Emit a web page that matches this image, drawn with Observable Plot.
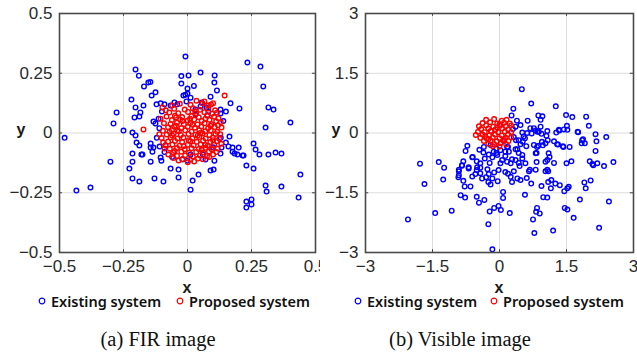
<!DOCTYPE html>
<html>
<head>
<meta charset="utf-8">
<script src="https://cdn.jsdelivr.net/npm/d3@7"></script>
<script src="https://cdn.jsdelivr.net/npm/@observablehq/plot@0.6"></script>
<style>
  html, body { margin: 0; padding: 0; background: #fff; }
  #wrap { position: relative; width: 637px; height: 354px; overflow: hidden; background: #fff; }
  .panel { position: absolute; top: 0; overflow: hidden; }
  .lbl { position: absolute; transform: translate(-50%, -50%); font-family: "Liberation Sans", Arial, sans-serif; font-weight: bold; font-size: 16px; color: #1a1a1a; white-space: nowrap; }
  .leg { position: absolute; transform: translateY(-50%); font-family: "Noto Sans", sans-serif; font-weight: 600; font-size: 14.5px; color: #111; white-space: nowrap; display: flex; align-items: center; }
  .leg svg { margin-right: 5px; }
  .cap { position: absolute; transform: translate(-50%, -50%); font-family: "Liberation Serif", "Times New Roman", serif; font-size: 20.5px; color: #111; white-space: nowrap; }
</style>
</head>
<body>
<div id="wrap"></div>
<script>
// ---- data ----
const firTicks = [-0.5, -0.25, 0, 0.25, 0.5];
const visTicks = [-3, -1.5, 0, 1.5, 3];
const seriesNames = ["Existing system", "Proposed system"];
const captions = ["(a) FIR image", "(b) Visible image"];

const firExisting = [
[-0.48,-0.02],[-0.008,0.32],[0.234,0.295],[0.285,0.278],[-0.203,0.266],[-0.19,0.24],
[0.051,0.253],[-0.024,0.238],[0.004,0.241],[0.106,0.241],[-0.024,0.207],[0.105,0.211],
[-0.153,0.211],[-0.145,0.213],[-0.17,0.195],[0.296,0.195],[0.0,0.186],[0.025,0.197],[0.115,0.178],
[-0.125,0.17],[-0.14,0.157],[-0.008,0.16],[0.012,0.148],[0.09,0.152],[-0.219,0.14],[0.203,0.103],
[0.168,0.124],[0.316,0.107],[0.336,0.098],[-0.203,0.107],[-0.172,0.115],[-0.277,0.086],
[0.129,0.098],[0.129,0.082],[-0.184,0.086],[-0.188,0.069],[-0.207,0.065],[-0.289,0.04],[-0.25,0.01],
[0.305,0.023],[0.402,0.044],[-0.215,0.002],[-0.203,-0.01],[-0.199,-0.04],[-0.188,-0.052],
[0.164,-0.015],[0.258,-0.044],[0.266,-0.069],[0.316,-0.09],[0.344,-0.082],[0.367,-0.086],[0.281,-0.09],
[0.16,-0.056],[0.176,-0.061],[0.2,-0.061],[0.176,-0.078],[0.195,-0.09],[0.215,-0.094],
[-0.215,-0.086],[-0.176,-0.09],[-0.301,-0.12],[-0.227,-0.149],[-0.215,-0.12],[-0.215,-0.19],
[-0.188,-0.203],[-0.129,-0.19],[-0.094,-0.203],[-0.144,-0.12],[-0.105,-0.103],[-0.102,-0.116],[-0.18,-0.09],
[-0.066,-0.149],[-0.035,-0.153],[-0.035,-0.186],[0.02,-0.199],[0.043,-0.174],[0.012,-0.237],
[0.07,-0.111],[0.105,-0.116],[0.09,-0.157],[0.102,-0.153],[0.23,-0.136],[0.258,-0.149],
[0.441,-0.174],[0.305,-0.22],[0.309,-0.245],[0.367,-0.224],[0.23,-0.287],[0.25,-0.278],
[0.25,-0.299],[0.23,-0.312],[0.434,-0.27],[-0.434,-0.241],[-0.379,-0.228],
[0.012,-0.09],[0.0,-0.116],[-0.02,-0.111],[0.133,-0.061],[0.129,-0.086],[0.184,-0.086],[0.219,-0.094],
[-0.144,-0.044],[-0.133,-0.061],[-0.137,-0.078],[-0.144,-0.061],[-0.109,-0.057],[-0.086,-0.052],
[-0.121,0.12],[-0.105,0.124],[-0.09,0.12],[-0.066,0.115],[-0.051,0.128],[-0.125,0.04],[-0.133,0.048],
[-0.113,0.06],[-0.016,0.157],[0.0,0.165],[-0.004,0.132],[0.055,0.128],[0.051,0.111],[0.074,0.107],
[0.082,0.09],[0.031,0.098],[0.031,0.078],[0.078,0.074],[-0.1,0.09],[-0.11,0.02],[-0.12,-0.02],
[0.14,0.05],[0.13,-0.02],[0.15,-0.04],[-0.06,-0.1],[0.06,-0.09],[-0.09,-0.08],[0.1,-0.06],
[-0.04,0.12],[0.15,0.09]
];

const firProposed = [
[-0.098,0.107],[-0.172,0.015],[0.145,0.157],[0.133,0.023],[0.066,0.132],[0.08,0.115],[0.113,-0.08],
[-0.03,0.122],[0.012,0.118],[0.058,0.124],[0.092,0.119],
[-0.052,0.101],[-0.011,0.098],[0.021,0.104],[0.049,0.097],[0.081,0.102],[0.108,0.095],
[-0.071,0.086],[-0.036,0.083],[0.002,0.088],[0.034,0.082],[0.066,0.087],[0.096,0.081],
[-0.082,0.069],[-0.049,0.072],[-0.021,0.067],[0.016,0.071],[0.044,0.066],[0.077,0.072],[0.104,0.068],[0.121,0.061],
[-0.061,0.054],[-0.029,0.057],[0.001,0.052],[0.026,0.056],[0.056,0.051],[0.086,0.055],[0.112,0.049],
[-0.092,0.041],[-0.066,0.038],[-0.041,0.043],[-0.014,0.037],[0.011,0.042],[0.039,0.036],[0.067,0.041],[0.094,0.037],[0.119,0.032],
[-0.076,0.024],[-0.052,0.027],[-0.024,0.021],[0.001,0.026],[0.029,0.022],[0.054,0.027],[0.081,0.021],[0.106,0.025],
[-0.096,0.009],[-0.061,0.012],[-0.034,0.007],[-0.009,0.011],[0.016,0.006],[0.046,0.012],[0.069,0.007],[0.091,0.011],[0.116,0.005],
[-0.081,-0.006],[-0.054,-0.003],[-0.026,-0.008],[0.004,-0.004],[0.031,-0.007],[0.059,-0.002],[0.086,-0.008],[0.109,-0.004],
[-0.101,-0.021],[-0.066,-0.018],[-0.039,-0.023],[-0.016,-0.019],[0.019,-0.022],[0.046,-0.017],[0.071,-0.023],[0.099,-0.019],[0.124,-0.024],
[-0.076,-0.036],[-0.049,-0.033],[-0.021,-0.038],[0.011,-0.034],[0.036,-0.037],[0.061,-0.032],[0.089,-0.038],[0.114,-0.034],
[-0.086,-0.051],[-0.059,-0.048],[-0.031,-0.053],[0.001,-0.049],[0.024,-0.052],[0.051,-0.047],[0.079,-0.053],[0.104,-0.049],
[-0.069,-0.066],[-0.041,-0.063],[-0.011,-0.068],[0.016,-0.064],[0.044,-0.067],[0.071,-0.062],[0.094,-0.068],
[-0.056,-0.081],[-0.024,-0.078],[0.006,-0.083],[0.034,-0.079],[0.061,-0.082],[0.084,-0.077],
[-0.041,-0.096],[-0.009,-0.093],[0.021,-0.098],[0.049,-0.094],[0.076,-0.097],
[-0.019,-0.109],[0.011,-0.112],[0.041,-0.107],[0.001,-0.122],[0.026,-0.119],
[-0.045,0.03],[0.005,-0.03],[0.05,0.0],[-0.02,0.05],[0.07,-0.05],[0.03,0.09],[-0.06,-0.01],[0.09,0.03],
[-0.085,0.095],[-0.06,0.115],[0.035,0.135],[0.1,0.125],[0.115,0.085],[0.13,0.045],[0.128,-0.005],
[0.132,-0.045],[0.118,-0.065],[0.1,-0.09],[-0.105,0.06],[-0.11,-0.005],[-0.095,-0.04],[-0.09,-0.065],
[-0.075,-0.09],[-0.055,-0.105],[-0.035,-0.115],[0.06,-0.11],[0.085,-0.1],[-0.045,0.065],[0.01,0.06],
[0.07,0.06],[-0.015,-0.055],[0.055,-0.07],[-0.05,-0.075],[0.02,0.035],[-0.07,0.005],[0.1,-0.03],
[-0.04,0.01],[0.04,-0.01]
];

const visExisting = [
[0.5,1.1],[0.71,0.74],[0.31,0.61],[1.26,0.67],[0.27,0.44],[0.87,0.44],[0.96,0.42],[0.92,0.33],
[1.49,0.45],[1.63,0.4],[1.94,0.41],[0.39,0.31],[0.47,0.2],[0.36,0.16],[0.63,0.31],[2.0,0.18],
[1.51,0.18],[1.44,0.09],[1.33,0.08],[1.52,0.08],[1.75,0.03],[2.15,-0.03],[2.39,-0.1],
[1.07,0.05],[1.05,-0.07],[0.69,0.12],[0.77,0.12],[0.92,0.16],[0.51,0.01],[0.62,0.0],[0.54,-0.09],
[0.32,-0.1],[0.37,-0.18],[0.85,0.03],[0.94,-0.02],[1.22,-0.21],[1.29,-0.28],[1.42,-0.33],[1.57,-0.35],
[2.17,-0.21],[1.85,-0.18],[1.91,-0.26],[0.87,-0.32],[0.97,-0.31],[0.95,-0.22],[0.6,-0.33],[0.47,-0.28],
[0.4,-0.41],[2.15,-0.45],[0.81,-0.51],[1.1,-0.51],[0.19,-0.35],[0.13,-0.47],
[-0.72,-0.32],[-0.76,-0.45],[-0.6,-0.6],[-0.36,-0.49],[-0.24,-0.54],[-0.07,-0.5],
[-0.33,-0.64],[-0.13,-0.47],[-0.07,-0.39],[-0.61,-0.61],[-0.51,-0.71],[-0.43,-0.76],
[-0.81,-0.71],[-0.84,-0.81],[-0.22,-0.75],[-0.16,-0.61],[-1.78,-0.77],[-1.36,-0.73],[-1.24,-0.87],
[-0.91,-0.92],[-0.69,-0.86],[-0.5,-0.86],[0.88,0.03],[0.81,0.06],[0.72,-0.01],[1.27,0.01],[1.34,0.06],
[1.76,0.02],[0.57,-0.13],[0.43,-0.18],[0.52,-0.22],[1.87,-0.16],[1.84,-0.26],[1.31,-0.29],[1.43,-0.35],
[1.03,-0.26],[1.08,-0.18],[0.84,-0.35],[0.77,-0.3],[0.36,-0.41],[0.43,-0.5],[0.21,-0.47],[0.17,-0.35],
[0.02,-0.43],[-0.05,-0.55],[0.13,-0.58],[0.83,-0.5],[1.12,-0.6],[1.07,-0.68],[1.03,-0.72],
[0.51,-0.55],[0.51,-0.64],[0.58,-0.76],[0.43,-0.75],[0.36,-0.68],[0.28,-0.66],[0.25,-0.76],[0.17,-0.72],
[0.06,-0.68],[0.02,-0.76],[0.83,-0.73],[1.22,-0.75],[1.5,-0.76],[1.61,-0.71],[2.02,-0.71],[2.08,-0.78],
[2.19,-0.76],[2.34,-0.83],[2.55,-0.73],[0.68,-0.92],[0.81,-0.92],[1.07,-0.92],
[-2.05,-2.17],[-1.68,-1.28],[-1.44,-2.01],[-1.26,-1.17],[-1.07,-1.95],
[-0.91,-0.96],[-0.91,-1.06],[-0.92,-1.11],[-0.81,-1.2],[-0.78,-1.34],[-0.65,-1.34],
[-0.84,-0.82],[-0.69,-0.89],[-0.61,-1.09],[-0.54,-1.03],[-0.51,-0.93],[-0.43,-0.87],[-0.43,-1.01],
[-0.39,-1.14],[-0.3,-1.11],[-0.27,-0.91],[-0.24,-1.03],[-0.12,-0.99],[-0.02,-0.93],
[-0.25,-1.23],[-0.2,-1.29],[-0.16,-1.14],[-0.04,-1.21],[-0.87,-1.56],[-0.77,-1.62],
[-0.51,-1.6],[-0.34,-1.68],[-0.46,-1.75],[-0.22,-1.97],[-0.12,-1.88],[-0.02,-1.83],[0.03,-1.93],
[-0.25,-2.29],[-0.16,-2.92],[0.08,-1.48],[0.08,-1.63],[0.23,-2.01],
[0.13,-0.98],[0.19,-1.02],[0.25,-1.1],[0.28,-1.23],[0.32,-0.96],[0.45,-0.83],[0.4,-1.14],[0.47,-1.18],
[0.57,-1.55],[0.61,-1.13],[0.66,-0.96],[0.71,-1.27],[0.94,-1.33],[0.98,-1.61],[1.07,-1.62],
[1.03,-0.96],[1.09,-0.96],[1.09,-1.23],[1.15,-1.39],[1.16,-1.18],[1.25,-1.27],[1.35,-1.31],
[0.84,-1.88],[0.82,-1.98],[0.9,-2.02],[0.75,-2.17],[0.78,-2.51],[1.2,-2.45],
[1.45,-1.46],[1.52,-1.39],[1.55,-1.35],[1.46,-1.88],[1.52,-1.92],[1.66,-2.13],[1.8,-1.67],
[1.9,-1.24],[1.93,-1.39],[2.04,-1.19],[2.45,-1.72],[2.23,-2.38],[2.1,-0.81],
[-0.2,-0.3],[-0.35,-0.35],[0.1,-0.2],[0.3,0.1],[-0.45,-0.42]
];

const visProposed = [
[-0.3,0.33],[-0.12,0.35],[0.05,0.31],[0.16,0.33],
[-0.38,0.25],[-0.21,0.27],[-0.05,0.24],[0.1,0.26],[0.23,0.24],
[-0.46,0.17],[-0.3,0.19],[-0.14,0.16],[0.01,0.18],[0.14,0.17],[0.26,0.19],
[-0.41,0.1],[-0.25,0.11],[-0.09,0.09],[0.06,0.11],[0.19,0.09],
[-0.48,0.03],[-0.33,0.02],[-0.18,0.04],[-0.03,0.02],[0.12,0.04],[0.26,0.02],
[-0.53,-0.05],[-0.38,-0.04],[-0.23,-0.06],[-0.1,-0.04],[0.05,-0.06],[0.19,-0.04],
[-0.43,-0.12],[-0.29,-0.13],[-0.15,-0.11],[0.0,-0.13],[0.14,-0.12],[0.26,-0.11],
[-0.35,-0.2],[-0.2,-0.19],[-0.06,-0.21],[0.08,-0.19],[0.2,-0.2],
[-0.25,-0.27],[-0.12,-0.28],[0.02,-0.26],[0.15,-0.28],
[-0.15,-0.33],[0.0,-0.34],
[-0.2,0.05],[0.0,0.22],[-0.32,-0.08],[0.1,-0.15],[-0.05,0.14],[-0.25,-0.15]
];

// ---- rendering ----
const fmt = d => (d < 0 ? "\u2212" : "") + Math.abs(d);

function panel(existing, proposed, ticks, width, ml, mr) {
  const lo = ticks[0], hi = ticks[ticks.length - 1];
  const t = (hi - lo) * 0.012;
  return Plot.plot({
    width, height: 282,
    marginLeft: ml, marginRight: mr, marginTop: 13, marginBottom: 30,
    style: { fontFamily: "'Liberation Sans', Arial, sans-serif", fontSize: "17px", color: "#2a2a2a", background: "white", overflow: "hidden" },
    x: { domain: [lo, hi], ticks, tickFormat: fmt, tickSize: 0, tickPadding: 7, label: null },
    y: { domain: [lo, hi], ticks, tickFormat: fmt, tickSize: 0, tickPadding: 7, label: null },
    marks: [
      Plot.ruleX(ticks, { stroke: "#dcdcdc", strokeWidth: 1 }),
      Plot.ruleY(ticks, { stroke: "#dcdcdc", strokeWidth: 1 }),
      Plot.ruleX(ticks, { y1: lo, y2: lo + t, stroke: "#444" }),
      Plot.ruleX(ticks, { y1: hi, y2: hi - t, stroke: "#444" }),
      Plot.ruleY(ticks, { x1: lo, x2: lo + t, stroke: "#444" }),
      Plot.ruleY(ticks, { x1: hi, x2: hi - t, stroke: "#444" }),
      Plot.dot(existing, { x: d => d[0], y: d => d[1], r: 2.3, stroke: "#0000ff", strokeWidth: 1.4, fill: "none" }),
      Plot.dot(proposed, { x: d => d[0], y: d => d[1], r: 2.3, stroke: "#ff0000", strokeWidth: 1.4, fill: "none" }),
      Plot.frame({ stroke: "#4a4a4a", strokeWidth: 1.6 })
    ]
  });
}

const wrap = document.getElementById("wrap");

function addPanel(node, left, width) {
  const d = document.createElement("div");
  d.className = "panel";
  d.style.left = left + "px";
  d.style.width = width + "px";
  d.style.height = "282px";
  d.appendChild(node);
  wrap.appendChild(d);
}
addPanel(panel(firExisting, firProposed, firTicks, 320, 59, 5), 0, 320);
addPanel(panel(visExisting, visProposed, visTicks, 317, 45, 4), 320, 317);

function addText(cls, text, x, y) {
  const e = document.createElement("div");
  e.className = cls;
  e.textContent = text;
  e.style.left = x + "px";
  e.style.top = y + "px";
  wrap.appendChild(e);
  return e;
}
addText("lbl", "y", 21, 130);
addText("lbl", "y", 336, 130);
addText("lbl", "x", 187, 288);
addText("lbl", "x", 499, 288);

function addLegend(x, y, color, text) {
  const e = document.createElement("div");
  e.className = "leg";
  e.style.left = x + "px";
  e.style.top = y + "px";
  e.innerHTML = `<svg width="8" height="8"><circle cx="4" cy="4" r="2.8" fill="none" stroke="${color}" stroke-width="1.2"/></svg>`;
  e.appendChild(document.createTextNode(text));
  wrap.appendChild(e);
}
addLegend(38, 301, "#0000ff", seriesNames[0]);
addLegend(176, 301, "#ff0000", seriesNames[1]);
addLegend(354, 301, "#0000ff", seriesNames[0]);
addLegend(490, 301, "#ff0000", seriesNames[1]);

addText("cap", captions[0], 158, 339);
addText("cap", captions[1], 460, 339);
</script>
</body>
</html>
